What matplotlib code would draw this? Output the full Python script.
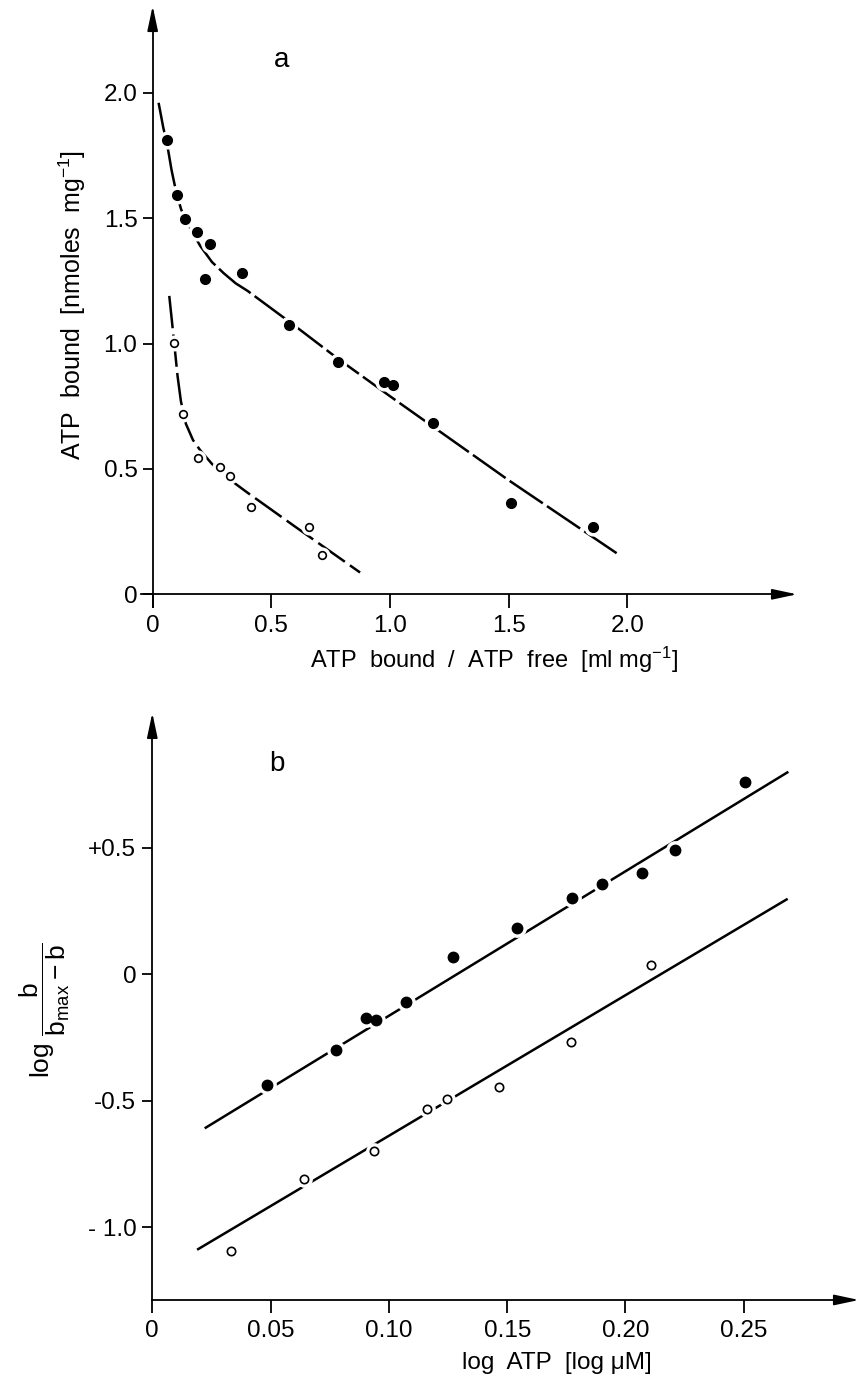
import matplotlib
matplotlib.use('Agg')
import matplotlib.pyplot as plt

plt.rcParams['font.family'] = ['Liberation Sans', 'DejaVu Sans']
plt.rcParams['mathtext.default'] = 'regular'

######################################################
# Panel a: Scatchard plot (ATP bound vs bound/free)

a_filled_x = [0.060, 0.102, 0.137, 0.185, 0.242, 0.220, 0.378, 0.573,
              0.783, 0.975, 1.014, 1.183, 1.512, 1.857]
a_filled_y = [1.810, 1.591, 1.495, 1.443, 1.397, 1.256, 1.281, 1.075,
              0.925, 0.847, 0.833, 0.683, 0.365, 0.270]

a_open_x = [0.091, 0.126, 0.190, 0.285, 0.327, 0.414, 0.657, 0.713]
a_open_y = [1.004, 0.719, 0.543, 0.507, 0.472, 0.347, 0.270, 0.157]

# fitted curves
a_fit_filled_x = [0.025, 0.045, 0.06, 0.08, 0.10, 0.12, 0.14, 0.17, 0.20,
                  0.25, 0.30, 0.35, 0.40, 0.50, 0.60, 0.78, 1.00, 1.50, 1.955]
a_fit_filled_y = [1.96, 1.86, 1.80, 1.69, 1.60, 1.535, 1.49, 1.44, 1.39,
                  1.325, 1.28, 1.24, 1.21, 1.14, 1.07, 0.94, 0.79, 0.455, 0.164]

a_fit_open_x = [0.070, 0.080, 0.091, 0.105, 0.119, 0.14, 0.17, 0.20, 0.25,
                0.30, 0.40, 0.455, 0.60, 0.874]
a_fit_open_y = [1.19, 1.10, 1.00, 0.87, 0.77, 0.68, 0.615, 0.575, 0.52,
                0.475, 0.405, 0.368, 0.27, 0.087]

a_xticks = [0, 0.5, 1.0, 1.5, 2.0]
a_xticklabels = ['0', '0.5', '1.0', '1.5', '2.0']
a_yticks = [0, 0.5, 1.0, 1.5, 2.0]
a_yticklabels = ['0', '0.5', '1.0', '1.5', '2.0']

######################################################
# Panel b: Hill plot

b_filled_x = [0.0484, 0.0776, 0.0903, 0.0945, 0.1072, 0.1270, 0.1543,
              0.1773, 0.1902, 0.2071, 0.2209, 0.2506]
b_filled_y = [-0.438, -0.302, -0.174, -0.183, -0.110, 0.068, 0.183,
              0.300, 0.356, 0.401, 0.490, 0.760]

b_open_x = [0.0334, 0.0641, 0.0938, 0.1160, 0.1247, 0.1465, 0.1768, 0.2106]
b_open_y = [-1.095, -0.808, -0.699, -0.534, -0.494, -0.447, -0.270, 0.035]

b_fit_filled_x = [0.0226, 0.2684]
b_fit_filled_y = [-0.607, 0.797]
b_fit_open_x = [0.0194, 0.2681]
b_fit_open_y = [-1.087, 0.295]

b_xticks = [0, 0.05, 0.10, 0.15, 0.20, 0.25]
b_xticklabels = ['0', '0.05', '0.10', '0.15', '0.20', '0.25']
b_yticks = [-1.0, -0.5, 0, 0.5]
b_yticklabels = ['- 1.0', '-0.5', '0', '+0.5']


def arrow(ax, start, tip):
    ax.annotate('', xy=tip, xytext=start, annotation_clip=False,
                arrowprops=dict(arrowstyle='-|>,head_length=0.75,head_width=0.16',
                                mutation_scale=20, lw=1.3, color='black',
                                shrinkA=0, shrinkB=0))


def points(ax, x, y, filled, size):
    # white halo so the fitted line breaks around each symbol
    ax.plot(x, y, 'o', ms=size + 5, color='white', zorder=3)
    if filled:
        ax.plot(x, y, 'o', ms=size, color='black', zorder=4)
    else:
        ax.plot(x, y, 'o', ms=size, mfc='white', mec='black', mew=1.2, zorder=4)


def style_axes(ax, xlen, ylen):
    for side in ['top', 'right']:
        ax.spines[side].set_visible(False)
    for side in ['left', 'bottom']:
        ax.spines[side].set_linewidth(1.3)
    ax.tick_params(axis='x', direction='out', length=xlen, width=1.3, pad=5, labelsize=17.5)
    ax.tick_params(axis='y', direction='out', length=ylen, width=1.3, pad=4, labelsize=17.5)


fig = plt.figure(figsize=(8.59, 13.89), dpi=100)

# ---------------- a ----------------
ax1 = fig.add_axes([0.1639, 0.5631, 0.7653, 0.4333])
ax1.set_xlim(-0.05, 2.72)
ax1.set_ylim(-0.05, 2.35)
ax1.spines['left'].set_position(('data', 0))
ax1.spines['bottom'].set_position(('data', 0))
ax1.spines['left'].set_bounds(-0.05, 2.25)
ax1.spines['bottom'].set_bounds(-0.05, 2.62)
ax1.set_xticks(a_xticks, a_xticklabels)
ax1.set_yticks(a_yticks, a_yticklabels)
style_axes(ax1, 10, 7)
arrow(ax1, (0, 2.25), (0, 2.346))
arrow(ax1, (2.62, 0), (2.715, 0))

ax1.plot(a_fit_filled_x, a_fit_filled_y, color='black', lw=1.8,
         dashes=(16, 2), zorder=2)
ax1.plot(a_fit_open_x, a_fit_open_y, color='black', lw=1.8,
         dashes=(13, 2.5), zorder=2)
points(ax1, a_filled_x, a_filled_y, True, 7)
points(ax1, a_open_x, a_open_y, False, 5.5)

ax1.text(0.544, 2.13, 'a', fontsize=20, ha='center', va='center')
ax1.set_xlabel('ATP  bound  /  ATP  free  [ml mg$^{-1}$]', fontsize=17, va='center')
ax1.xaxis.set_label_coords(0.537, -0.088)
ax1.set_ylabel('ATP  bound  [nmoles  mg$^{-1}$]', fontsize=18, va='center')
ax1.yaxis.set_label_coords(-0.1047, 0.501)

# ---------------- b ----------------
ax2 = fig.add_axes([0.1773, 0.0641, 0.8227, 0.4226])
ax2.set_xlim(0, 0.2987)
ax2.set_ylim(-1.288, 1.032)
ax2.spines['left'].set_bounds(-1.288, 0.94)
ax2.spines['bottom'].set_bounds(0, 0.288)
ax2.set_xticks(b_xticks, b_xticklabels)
ax2.set_yticks(b_yticks, b_yticklabels)
style_axes(ax2, 9.5, 7.5)
arrow(ax2, (0, 0.94), (0, 1.032))
arrow(ax2, (0.288, -1.288), (0.2987, -1.288))

ax2.plot(b_fit_filled_x, b_fit_filled_y, color='black', lw=1.8, zorder=2)
ax2.plot(b_fit_open_x, b_fit_open_y, color='black', lw=1.8, zorder=2)
points(ax2, b_filled_x, b_filled_y, True, 7.5)
points(ax2, b_open_x, b_open_y, False, 6)

ax2.text(0.0526, 0.832, 'b', fontsize=20, ha='center', va='center')
ax2.set_xlabel('log  ATP  [log \u03bcM]', fontsize=17.5, va='center')
ax2.xaxis.set_label_coords(0.573, -0.107)
ax2.set_ylabel(r'log $\dfrac{b}{b_{max}-b}$', fontsize=19, va='center')
ax2.yaxis.set_label_coords(-0.152, 0.494)

fig.savefig('out.png', dpi=100)
